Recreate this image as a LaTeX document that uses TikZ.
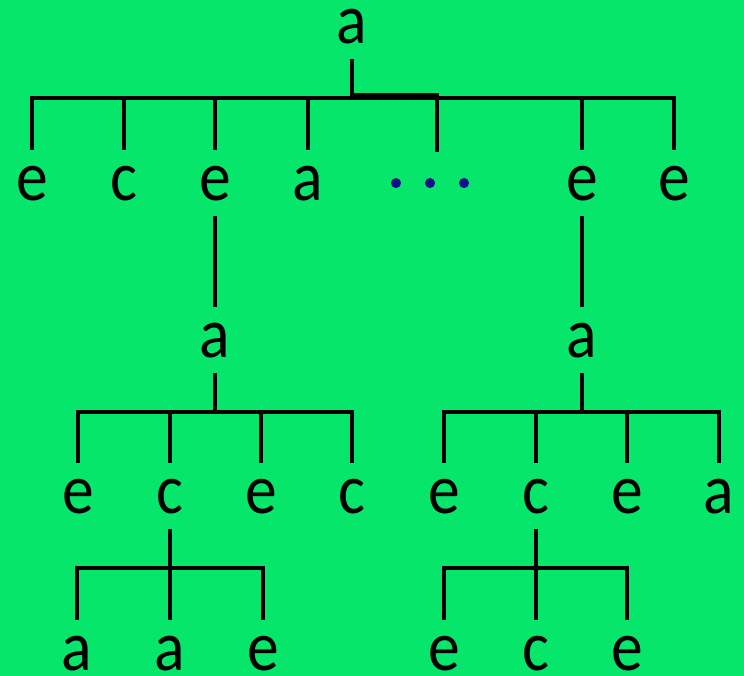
\documentclass[tikz,border=0pt]{standalone}
\usepackage{fontspec}
\newfontfamily\baumfont[FakeStretch=0.9]{Carlito}
\definecolor{hgruen}{HTML}{05E66A}
\definecolor{punktblau}{HTML}{10108C}
\tikzset{
	knoten/.style={font=\baumfont\fontsize{53}{53}\selectfont, inner xsep=0pt, inner ysep=11.5pt, anchor=base},
	ast/.style={line width=3.5pt},
	punkt/.style={fill=punktblau}
}
\begin{document}
\begin{tikzpicture}[x=0.75pt, y=-0.75pt]
		% Hintergrund
		\fill[hgruen] (0, 0) rectangle (744, 676);
		\useasboundingbox (0, 0) rectangle (744, 676);
		% Wurzel
		\node[knoten] (r) at (352, 43) {a};
		% Erste Ebene
		\begin{scope}
			\node[knoten] (k1) at (32, 200) {e};
			\node[knoten] (k2) at (124, 200) {c};
			\node[knoten] (k3) at (215, 200) {e};
			\node[knoten] (k4) at (308, 200) {a};
			\coordinate (pk) at (437, 152);
			\fill[punkt] (396, 183) circle (3.8pt);
			\fill[punkt] (430, 183) circle (3.8pt);
			\fill[punkt] (464, 183) circle (3.8pt);
			\node[knoten] (k6) at (582, 200) {e};
			\node[knoten] (k7) at (674, 200) {e};
		\end{scope}
		% Zweite Ebene
		\node[knoten] (m1) at (215, 357) {a};
		\node[knoten] (m2) at (582, 357) {a};
		% Dritte Ebene, links
		\begin{scope}
			\node[knoten] (l1) at (78, 513) {e};
			\node[knoten] (l2) at (170, 513) {c};
			\node[knoten] (l3) at (261, 513) {e};
			\node[knoten] (l4) at (352, 513) {c};
		\end{scope}
		% Dritte Ebene, rechts
		\begin{scope}
			\node[knoten] (q1) at (444, 513) {e};
			\node[knoten] (q2) at (536, 513) {c};
			\node[knoten] (q3) at (627, 513) {e};
			\node[knoten] (q4) at (719, 513) {a};
		\end{scope}
		% Blaetter
		\begin{scope}
			\node[knoten] (u1) at (77, 670) {a};
			\node[knoten] (u2) at (170, 670) {a};
			\node[knoten] (u3) at (263, 670) {e};
			\node[knoten] (v1) at (444, 670) {e};
			\node[knoten] (v2) at (536, 670) {c};
			\node[knoten] (v3) at (627, 670) {e};
		\end{scope}
		% Querbalken
		\coordinate (b0) at (352, 98);
		\coordinate (b0p) at (437, 95.5);
		\coordinate (b1) at (215, 412);
		\coordinate (b2) at (582, 412);
		\coordinate (b3) at (170, 568);
		\coordinate (b4) at (536, 568);
		% Aeste
		\draw[ast] (r.south) -- (r.south |- b0) -| (k1.north);
		\draw[ast] (r.south) -- (r.south |- b0) -| (k2.north);
		\draw[ast] (r.south) -- (r.south |- b0) -| (k3.north);
		\draw[ast] (r.south) -- (r.south |- b0) -| (k4.north);
		\draw[ast] (r.south) -- (r.south |- b0p) -| (pk);
		\draw[ast] (r.south) -- (r.south |- b0) -| (k6.north);
		\draw[ast] (r.south) -- (r.south |- b0) -| (k7.north);
		\draw[ast] (k3.south) -- (m1.north);
		\draw[ast] (k6.south) -- (m2.north);
		\draw[ast] (m1.south) -- (m1.south |- b1) -| (l1.north);
		\draw[ast] (m1.south) -- (m1.south |- b1) -| (l2.north);
		\draw[ast] (m1.south) -- (m1.south |- b1) -| (l3.north);
		\draw[ast] (m1.south) -- (m1.south |- b1) -| (l4.north);
		\draw[ast] (m2.south) -- (m2.south |- b2) -| (q1.north);
		\draw[ast] (m2.south) -- (m2.south |- b2) -| (q2.north);
		\draw[ast] (m2.south) -- (m2.south |- b2) -| (q3.north);
		\draw[ast] (m2.south) -- (m2.south |- b2) -| (q4.north);
		\draw[ast] (l2.south) -- (l2.south |- b3) -| (u1.north);
		\draw[ast] (l2.south) -- (l2.south |- b3) -| (u2.north);
		\draw[ast] (l2.south) -- (l2.south |- b3) -| (u3.north);
		\draw[ast] (q2.south) -- (q2.south |- b4) -| (v1.north);
		\draw[ast] (q2.south) -- (q2.south |- b4) -| (v2.north);
		\draw[ast] (q2.south) -- (q2.south |- b4) -| (v3.north);
	\end{tikzpicture}
\end{document}
